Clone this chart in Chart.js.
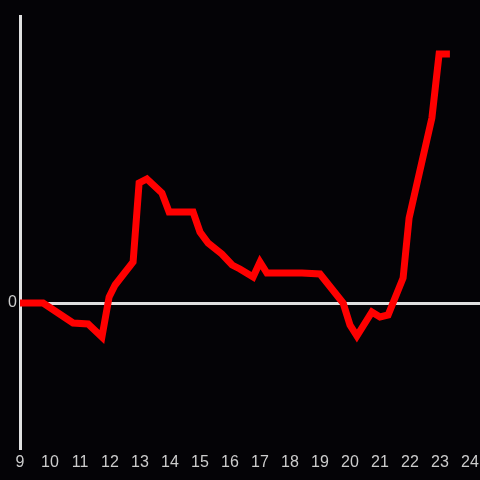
<!DOCTYPE html>
<html><head><meta charset="utf-8">
<script src="https://cdn.jsdelivr.net/npm/chart.js@4"></script>
<style>html,body{margin:0;padding:0;background:#040306;}#w{width:480px;height:480px;}</style>
</head><body><div id="w"><canvas id="c"></canvas></div>
<script>
const hours = [9,9.77,10.77,11.27,11.73,11.97,12.17,12.77,12.97,13.23,13.73,13.97,14.77,15.0,15.27,15.73,16.07,16.33,16.77,17.0,17.23,18.4,19.0,19.77,20.0,20.23,20.73,21.0,21.27,21.77,21.97,22.73,22.97,23.33];
const values = [0,0,-20,-21,-34,6,18,41,120,124,110,91,91,71,60,49,38,34,26,41,30,30,29,0,-22,-33,-9,-14,-12,25,85,185,249,249];
const xTicks = [9,10,11,12,13,14,15,16,17,18,19,20,21,22,23,24];
const yTicks = [0];
const points = hours.map((h,i)=>({x:h,y:values[i]}));
new Chart(document.getElementById('c'),{
  type:'line',
  data:{datasets:[{data:points,borderColor:'#ff0000',borderWidth:7,pointRadius:0,tension:0,fill:false,borderJoinStyle:'miter'}]},
  options:{
    responsive:true,maintainAspectRatio:false,animation:false,
    layout:{padding:{top:16,right:0,left:0,bottom:0}},
    plugins:{legend:{display:false},tooltip:{enabled:false}},
    scales:{
      x:{type:'linear',min:9,max:24.3333,
        afterBuildTicks:s=>{s.ticks=xTicks.map(v=>({value:v}));},
        afterFit:s=>{s.height=32;s.paddingLeft=0;s.paddingRight=0;},
        grid:{display:false,drawTicks:false},border:{display:false},
        ticks:{color:'#cccccc',font:{family:'Liberation Sans',size:16},padding:5,maxRotation:0,autoSkip:false}},
      y:{min:-145,max:287,
        afterBuildTicks:s=>{s.ticks=yTicks.map(v=>({value:v}));},
        afterFit:s=>{s.width=20;},
        grid:{color:c=>c.tick&&c.tick.value===0?'#e0e0e0':'rgba(0,0,0,0)',lineWidth:3,drawTicks:false},
        border:{display:true,color:'#e0e0e0',width:3},
        ticks:{color:'#cccccc',font:{family:'Liberation Sans',size:16},padding:3}}
    }
  }
});
</script></body></html>
